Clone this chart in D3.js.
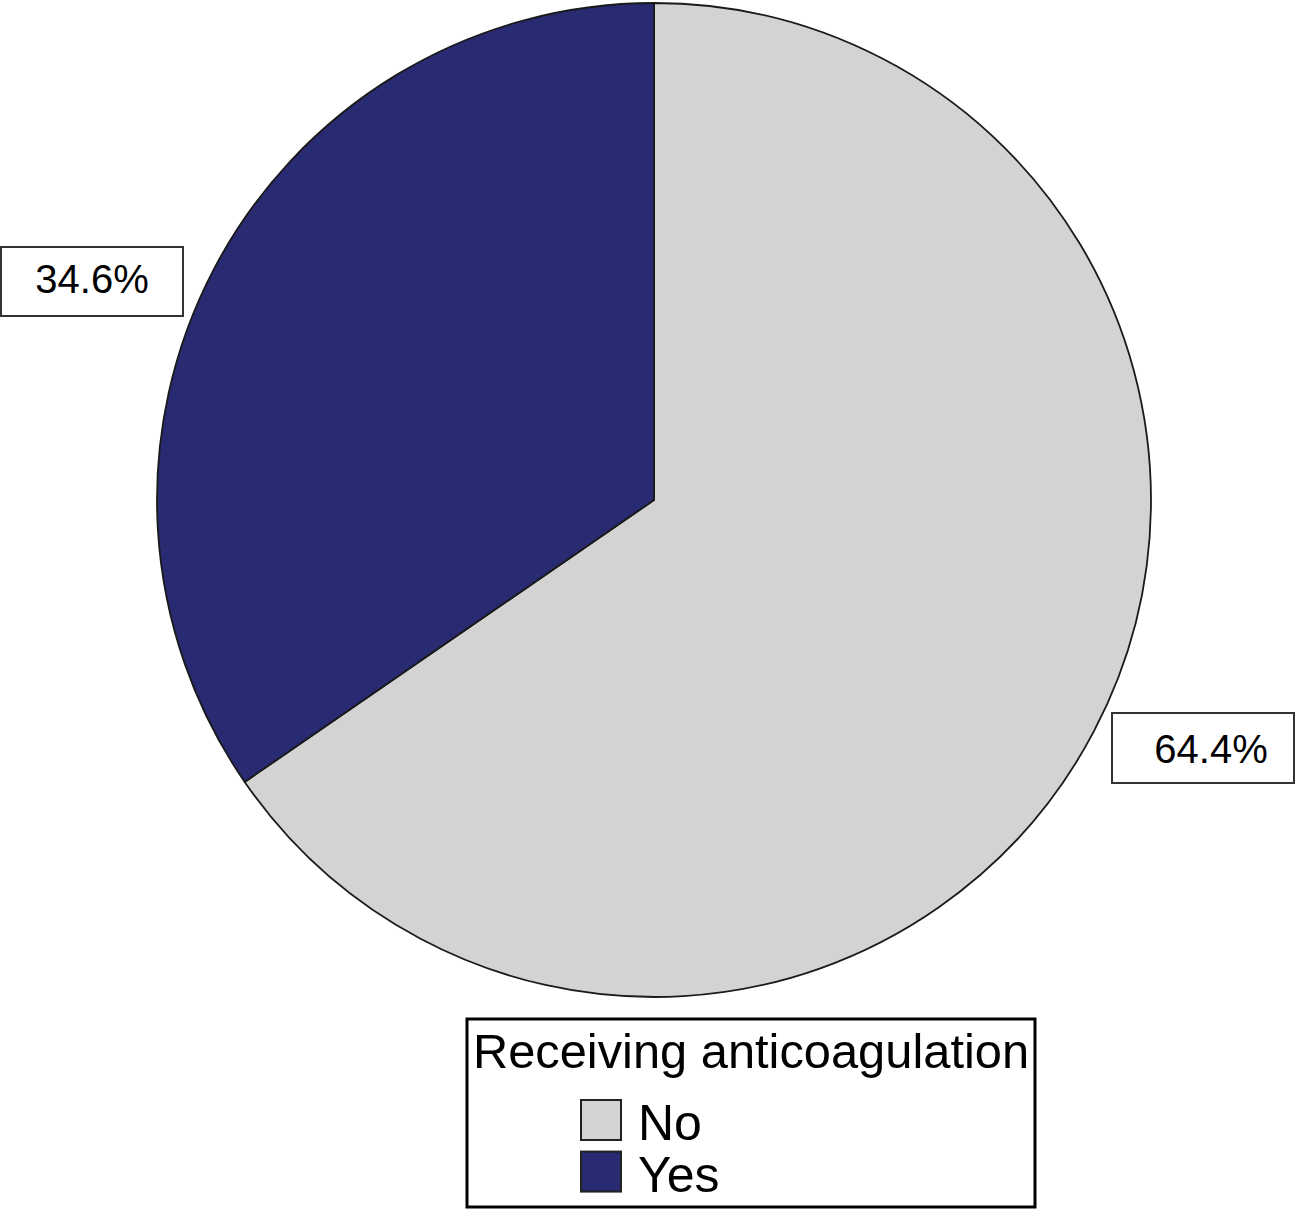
<!DOCTYPE html>
<html><head><meta charset="utf-8">
<script src="https://cdn.jsdelivr.net/npm/d3@7"></script>
<style>html,body{margin:0;padding:0;background:#fff;}svg{display:block;}</style>
</head><body>
<svg id="chart" width="1295" height="1211"></svg>
<script>
const categories = ["No", "Yes"];
const sliceValues = [65.4, 34.6];
const sliceLabels = ["64.4%", "34.6%"];
const legendTitle = "Receiving anticoagulation";
const colors = ["#d3d3d3", "#282a72"];

const svg = d3.select("#chart");
const cx = 654, cy = 500, R = 497;
const font = "'Liberation Sans', Arial, sans-serif";

const data = categories.map((c, i) => ({cat: c, value: sliceValues[i], label: sliceLabels[i], color: colors[i]}));
const pie = d3.pie().sort(null).value(d => d.value).startAngle(0).endAngle(2 * Math.PI);
const arc = d3.arc().innerRadius(0).outerRadius(R);

const g = svg.append("g").attr("transform", `translate(${cx},${cy})`);
g.selectAll("path").data(pie(data)).join("path")
  .attr("d", arc)
  .attr("fill", d => d.data.color)
  .attr("stroke", "#1a1a1a")
  .attr("stroke-width", 1.8)
  .attr("stroke-linejoin", "round");

// label boxes
const boxes = [
  {x: 1112, y: 713, w: 182, h: 70, tx: 1211, ty: 763},
  {x: 1, y: 247, w: 182, h: 69, tx: 92, ty: 293}
];
data.forEach((d, i) => {
  const b = boxes[i];
  svg.append("rect").attr("x", b.x).attr("y", b.y).attr("width", b.w).attr("height", b.h)
    .attr("fill", "#fff").attr("stroke", "#333").attr("stroke-width", 2);
  svg.append("text").attr("x", b.tx).attr("y", b.ty).attr("text-anchor", "middle")
    .attr("font-family", font).attr("font-size", 40).attr("fill", "#000").text(d.label);
});

// legend
const lg = svg.append("g");
lg.append("rect").attr("x", 467).attr("y", 1019).attr("width", 568).attr("height", 188)
  .attr("fill", "#fff").attr("stroke", "#000").attr("stroke-width", 3);
lg.append("text").attr("x", 751).attr("y", 1068).attr("text-anchor", "middle")
  .attr("font-family", font).attr("font-size", 48.8).attr("fill", "#000").text(legendTitle);
const itemY = d3.scaleBand().domain(categories).range([1098, 1196]).paddingInner(0.1);
data.forEach(d => {
  const y = itemY(d.cat);
  lg.append("rect").attr("x", 581).attr("y", y + 2).attr("width", 40).attr("height", 40)
    .attr("fill", d.color).attr("stroke", "#222").attr("stroke-width", 2);
  lg.append("text").attr("x", 638).attr("y", y + 42)
    .attr("font-family", font).attr("font-size", 50).attr("fill", "#000").text(d.cat);
});
</script>
</body></html>
